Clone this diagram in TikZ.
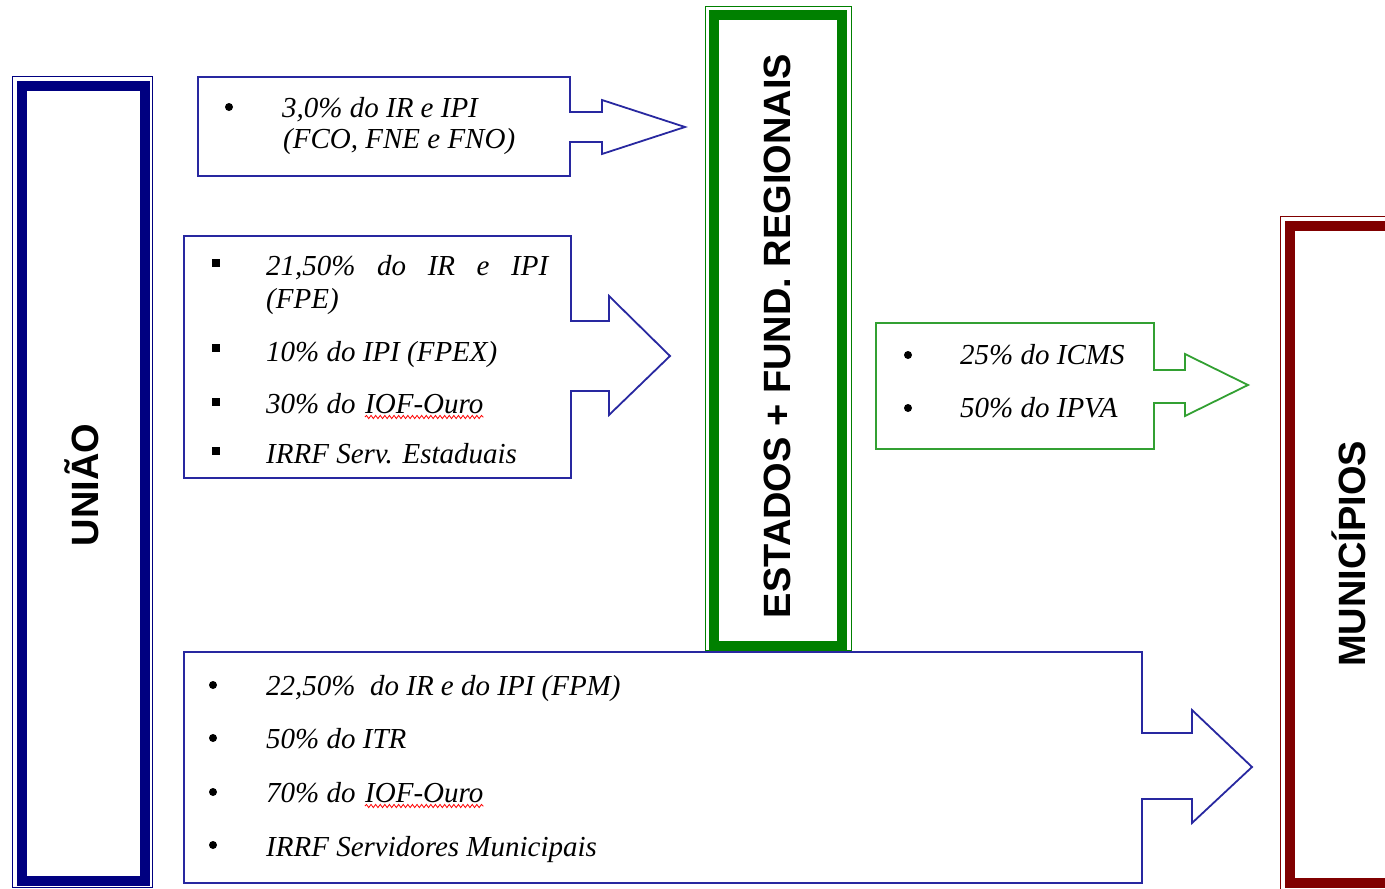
\documentclass[tikz,border=0pt]{standalone}
\usepackage{fontspec}
\usepackage{xcolor}
\usetikzlibrary{decorations.pathmorphing}
\newfontfamily\itemfont{Liberation Serif}
\newfontfamily\titlefont{Liberation Sans}
\definecolor{uniaoblue}{RGB}{0,0,128}
\definecolor{estadosgreen}{RGB}{0,128,0}
\definecolor{municred}{RGB}{128,0,0}
\definecolor{arrowblue}{RGB}{40,40,160}
\definecolor{arrowgreen}{RGB}{50,160,50}

\begin{document}
\begin{tikzpicture}[
      x=1pt, y=-1pt,
      itemtext/.style={anchor=base west, inner sep=0pt, font=\itemfont\itshape\fontsize{29}{34}\selectfont},
      roundbullet/.style={circle, fill, inner sep=0pt, minimum size=8pt},
      squarebullet/.style={rectangle, fill, inner sep=0pt, minimum size=8pt},
      title/.style={rotate=90, anchor=base, inner sep=0pt, font=\titlefont\bfseries\fontsize{38}{44}\selectfont},
      thinframe/.style={line width=1.5pt},
      thickframe/.style={line width=10pt},
      bluearrow/.style={draw=arrowblue, line width=1.8pt, line join=miter},
      greenarrow/.style={draw=arrowgreen, line width=1.8pt, line join=miter},
      spellwave/.style={red, line width=0.8pt, decorate, decoration={snake, amplitude=1.6pt, segment length=4.6pt}}
  ]
  \useasboundingbox (0,0) rectangle (1385,889);

  % frames of the three levels
  \draw[uniaoblue, thinframe] (12.5,76.5) rectangle (152.5,887.5);
  \draw[uniaoblue, thickframe] (21.5,86) rectangle (144.5,881);
  \draw[estadosgreen, thinframe] (705.5,6.5) rectangle (851.5,651);
  \draw[estadosgreen, thickframe] (714,15) rectangle (842,646);
  \draw[municred, thinframe] (1280.5,216.5) rectangle (1420,900);
  \draw[municred, thickframe] (1289.5,225.5) rectangle (1410,883);

  \node[title] (uniao) at (98,485) {UNIÃO};
  \node[title] (estados) at (790,336) {ESTADOS + FUND. REGIONAIS};
  \node[title] (municipios) at (1365,554) {MUNICÍPIOS};

  % arrow boxes
  \draw[bluearrow] (198,77) -- (570,77) -- (570,112) -- (602,112) -- (602,100) -- (685,127)
        -- (602,154) -- (602,142) -- (570,142) -- (570,176) -- (198,176) -- cycle;
  \draw[bluearrow] (184,236) -- (571,236) -- (571,321) -- (609,321) -- (609,296) -- (670,356)
        -- (609,415) -- (609,391) -- (571,391) -- (571,478) -- (184,478) -- cycle;
  \draw[greenarrow] (876,323) -- (1154,323) -- (1154,370) -- (1185,370) -- (1185,354) -- (1248,385)
        -- (1185,416) -- (1185,403) -- (1154,403) -- (1154,449) -- (876,449) -- cycle;
  \draw[bluearrow] (184,652) -- (1142,652) -- (1142,733) -- (1192,733) -- (1192,710) -- (1252,767)
        -- (1192,823) -- (1192,799) -- (1142,799) -- (1142,883) -- (184,883) -- cycle;

  % uniao -> estados (regionais)
  \node[roundbullet] (b11) at (229,107) {};
  \node[itemtext] (fco1) at (282,117) {3,0\% do IR e IPI};
  \node[itemtext] (fco2) at (283,148) {(FCO, FNE e FNO)};

  % uniao -> estados
  \node[squarebullet] (b21) at (216,263) {};
  \node[squarebullet] (b22) at (216,348) {};
  \node[squarebullet] (b23) at (216,402) {};
  \node[squarebullet] (b24) at (216,451) {};
  \node[itemtext] (fpe1) at (266,275) {\makebox[282pt][s]{21,50\% do IR e IPI}};
  \node[itemtext] (fpe2) at (266,308) {(FPE)};
  \node[itemtext] (fpex) at (266,361) {10\% do IPI (FPEX)};
  \node[itemtext] (iofe1) at (266,413) {30\% do};
  \node[itemtext] (iofe2) at (365,413) {IOF-Ouro};
  \node[itemtext] (irrfe) at (266,463) {IRRF Serv. Estaduais};
  \draw[spellwave] ([yshift=-4pt]iofe2.base west) -- ([yshift=-4pt]iofe2.base east);

  % estados -> municipios
  \node[roundbullet] (b31) at (908,355) {};
  \node[roundbullet] (b32) at (908,408) {};
  \node[itemtext] (icms) at (960,364) {25\% do ICMS};
  \node[itemtext] (ipva) at (960,417) {50\% do IPVA};

  % uniao -> municipios
  \node[roundbullet] (b41) at (213,685) {};
  \node[roundbullet] (b42) at (213,738) {};
  \node[roundbullet] (b43) at (213,792) {};
  \node[roundbullet] (b44) at (213,845) {};
  \node[itemtext] (fpm) at (266,695) {22,50\%\ \ do IR e do IPI (FPM)};
  \node[itemtext] (itr) at (266,748) {50\% do ITR};
  \node[itemtext] (iofm1) at (266,802) {70\% do};
  \node[itemtext] (iofm2) at (365,802) {IOF-Ouro};
  \node[itemtext] (irrfm) at (266,856) {IRRF Servidores Municipais};
  \draw[spellwave] ([yshift=-4pt]iofm2.base west) -- ([yshift=-4pt]iofm2.base east);

\end{tikzpicture}
\end{document}
